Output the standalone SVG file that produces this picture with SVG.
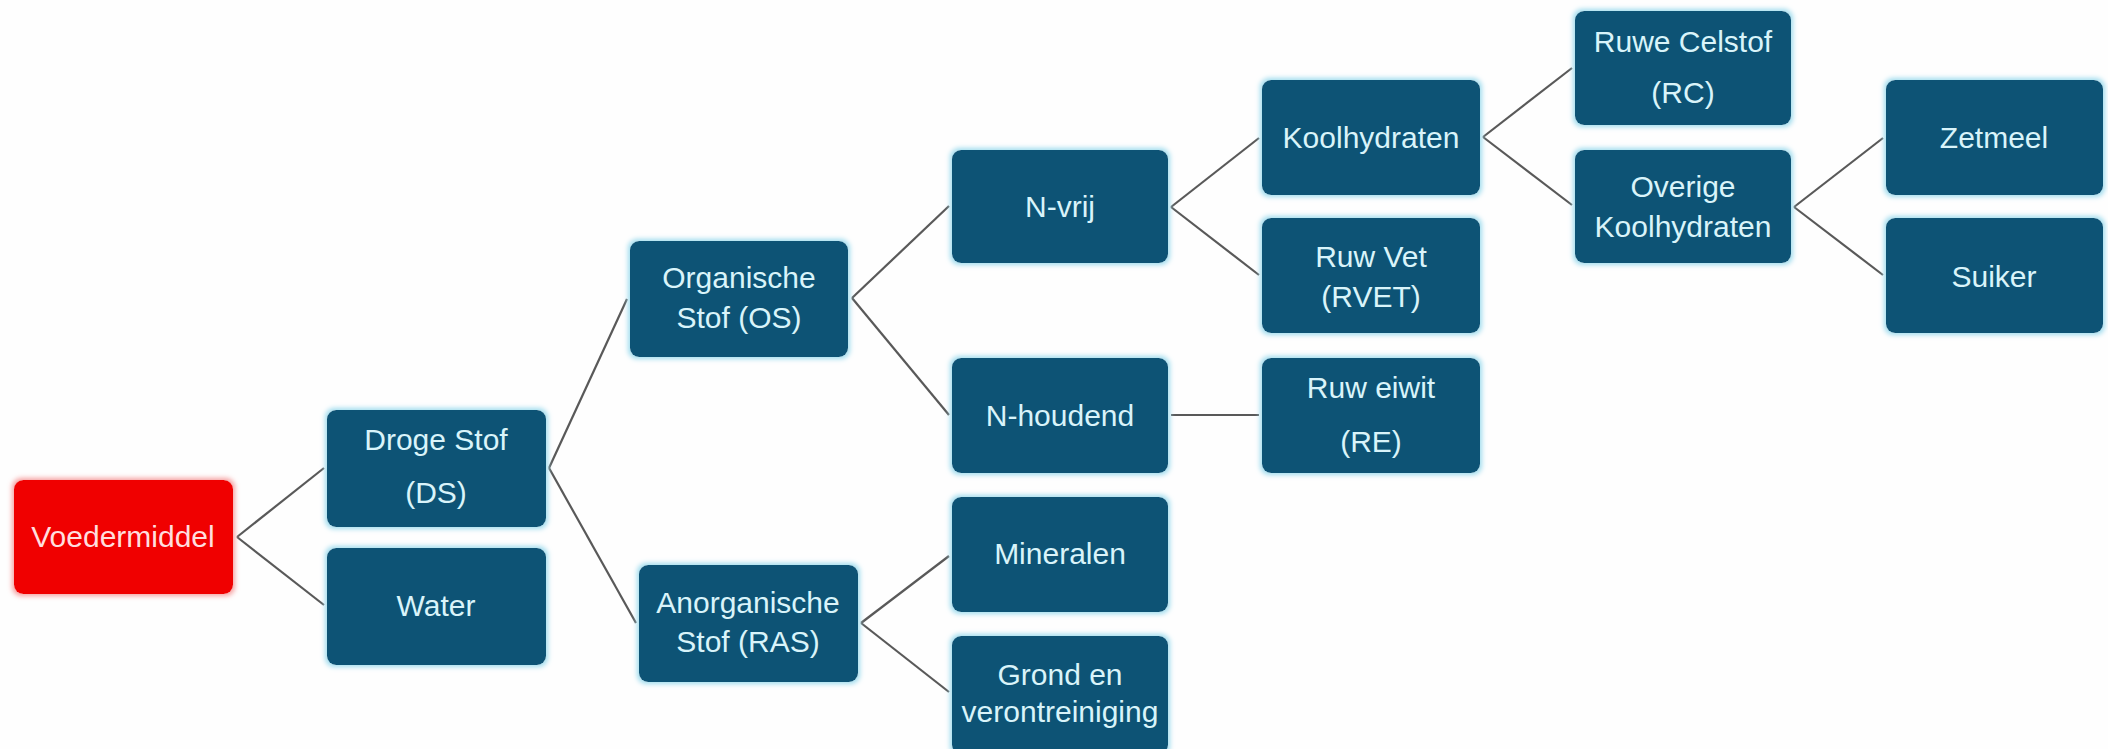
<svg xmlns="http://www.w3.org/2000/svg" width="2108" height="749" viewBox="0 0 2108 749">
  <defs>
    <filter id="glow" x="-10%" y="-15%" width="120%" height="130%">
      <feMorphology in="SourceAlpha" operator="dilate" radius="2" result="d"/>
      <feGaussianBlur in="d" stdDeviation="2.5" result="b"/>
      <feFlood flood-color="#9fdcee" result="c"/>
      <feComposite in="c" in2="b" operator="in" result="g"/>
      <feMerge><feMergeNode in="g"/><feMergeNode in="SourceGraphic"/></feMerge>
    </filter>
    <filter id="glowRed" x="-10%" y="-15%" width="120%" height="130%">
      <feMorphology in="SourceAlpha" operator="dilate" radius="2" result="d"/>
      <feGaussianBlur in="d" stdDeviation="2.5" result="b"/>
      <feFlood flood-color="#f6a0a0" result="c"/>
      <feComposite in="c" in2="b" operator="in" result="g"/>
      <feMerge><feMergeNode in="g"/><feMergeNode in="SourceGraphic"/></feMerge>
    </filter>
  </defs>
  <style>
    .box { fill: #0c5275; filter: url(#glow); }
    .root { fill: #f00000; filter: url(#glowRed); }
    text { font-family: "Liberation Sans", Arial, sans-serif; font-size: 30px; fill: #d9f4fa; text-anchor: middle; }
    .rt { fill: #ffdede; }
    .conn line { stroke: #595959; stroke-width: 2.2; }
  </style>
  <rect width="2108" height="749" fill="#fefefe"/>

  <g id="connectors" class="conn">
    <line x1="237" y1="537" x2="324" y2="468"/>
    <line x1="237" y1="537" x2="324" y2="605"/>
    <line x1="549" y1="468" x2="627" y2="299"/>
    <line x1="549" y1="468" x2="636" y2="623"/>
    <line x1="852" y1="298" x2="949" y2="206"/>
    <line x1="852" y1="298" x2="949" y2="415"/>
    <line x1="861" y1="623" x2="949" y2="556"/>
    <line x1="861" y1="623" x2="949" y2="692"/>
    <line x1="1171" y1="415" x2="1259" y2="415"/>
    <line x1="1171" y1="207" x2="1259" y2="138"/>
    <line x1="1171" y1="207" x2="1259" y2="275"/>
    <line x1="1483" y1="137" x2="1572" y2="68"/>
    <line x1="1483" y1="137" x2="1572" y2="205"/>
    <line x1="1794" y1="207" x2="1883" y2="138"/>
    <line x1="1794" y1="207" x2="1883" y2="275"/>
  </g>

  <g id="voedermiddel">
    <rect class="root" x="14" y="480" width="219" height="114" rx="9"/>
    <text class="rt" x="123" y="547">Voedermiddel</text>
  </g>
  <g id="droge-stof">
    <rect class="box" x="327" y="410" width="219" height="117" rx="9"/>
    <text x="436" y="450">Droge Stof</text>
    <text x="436" y="503">(DS)</text>
  </g>
  <g id="water">
    <rect class="box" x="327" y="548" width="219" height="117" rx="9"/>
    <text x="436" y="616">Water</text>
  </g>
  <g id="organische-stof">
    <rect class="box" x="630" y="241" width="218" height="116" rx="9"/>
    <text x="739" y="288">Organische</text>
    <text x="739" y="328">Stof (OS)</text>
  </g>
  <g id="anorganische-stof">
    <rect class="box" x="639" y="565" width="219" height="117" rx="9"/>
    <text x="748" y="613">Anorganische</text>
    <text x="748" y="652">Stof (RAS)</text>
  </g>
  <g id="n-vrij">
    <rect class="box" x="952" y="150" width="216" height="113" rx="9"/>
    <text x="1060" y="217">N-vrij</text>
  </g>
  <g id="n-houdend">
    <rect class="box" x="952" y="358" width="216" height="115" rx="9"/>
    <text x="1060" y="426">N-houdend</text>
  </g>
  <g id="mineralen">
    <rect class="box" x="952" y="497" width="216" height="115" rx="9"/>
    <text x="1060" y="564">Mineralen</text>
  </g>
  <g id="grond">
    <rect class="box" x="952" y="636" width="216" height="118" rx="9"/>
    <text x="1060" y="685">Grond en</text>
    <text x="1060" y="722">verontreiniging</text>
  </g>
  <g id="koolhydraten">
    <rect class="box" x="1262" y="80" width="218" height="115" rx="9"/>
    <text x="1371" y="148">Koolhydraten</text>
  </g>
  <g id="ruw-vet">
    <rect class="box" x="1262" y="218" width="218" height="115" rx="9"/>
    <text x="1371" y="267">Ruw Vet</text>
    <text x="1371" y="307">(RVET)</text>
  </g>
  <g id="ruw-eiwit">
    <rect class="box" x="1262" y="358" width="218" height="115" rx="9"/>
    <text x="1371" y="398">Ruw eiwit</text>
    <text x="1371" y="452">(RE)</text>
  </g>
  <g id="ruwe-celstof">
    <rect class="box" x="1575" y="11" width="216" height="114" rx="9"/>
    <text x="1683" y="52">Ruwe Celstof</text>
    <text x="1683" y="103">(RC)</text>
  </g>
  <g id="overige-koolhydraten">
    <rect class="box" x="1575" y="150" width="216" height="113" rx="9"/>
    <text x="1683" y="197">Overige</text>
    <text x="1683" y="237">Koolhydraten</text>
  </g>
  <g id="zetmeel">
    <rect class="box" x="1886" y="80" width="217" height="115" rx="9"/>
    <text x="1994" y="148">Zetmeel</text>
  </g>
  <g id="suiker">
    <rect class="box" x="1886" y="218" width="217" height="115" rx="9"/>
    <text x="1994" y="287">Suiker</text>
  </g>
</svg>
